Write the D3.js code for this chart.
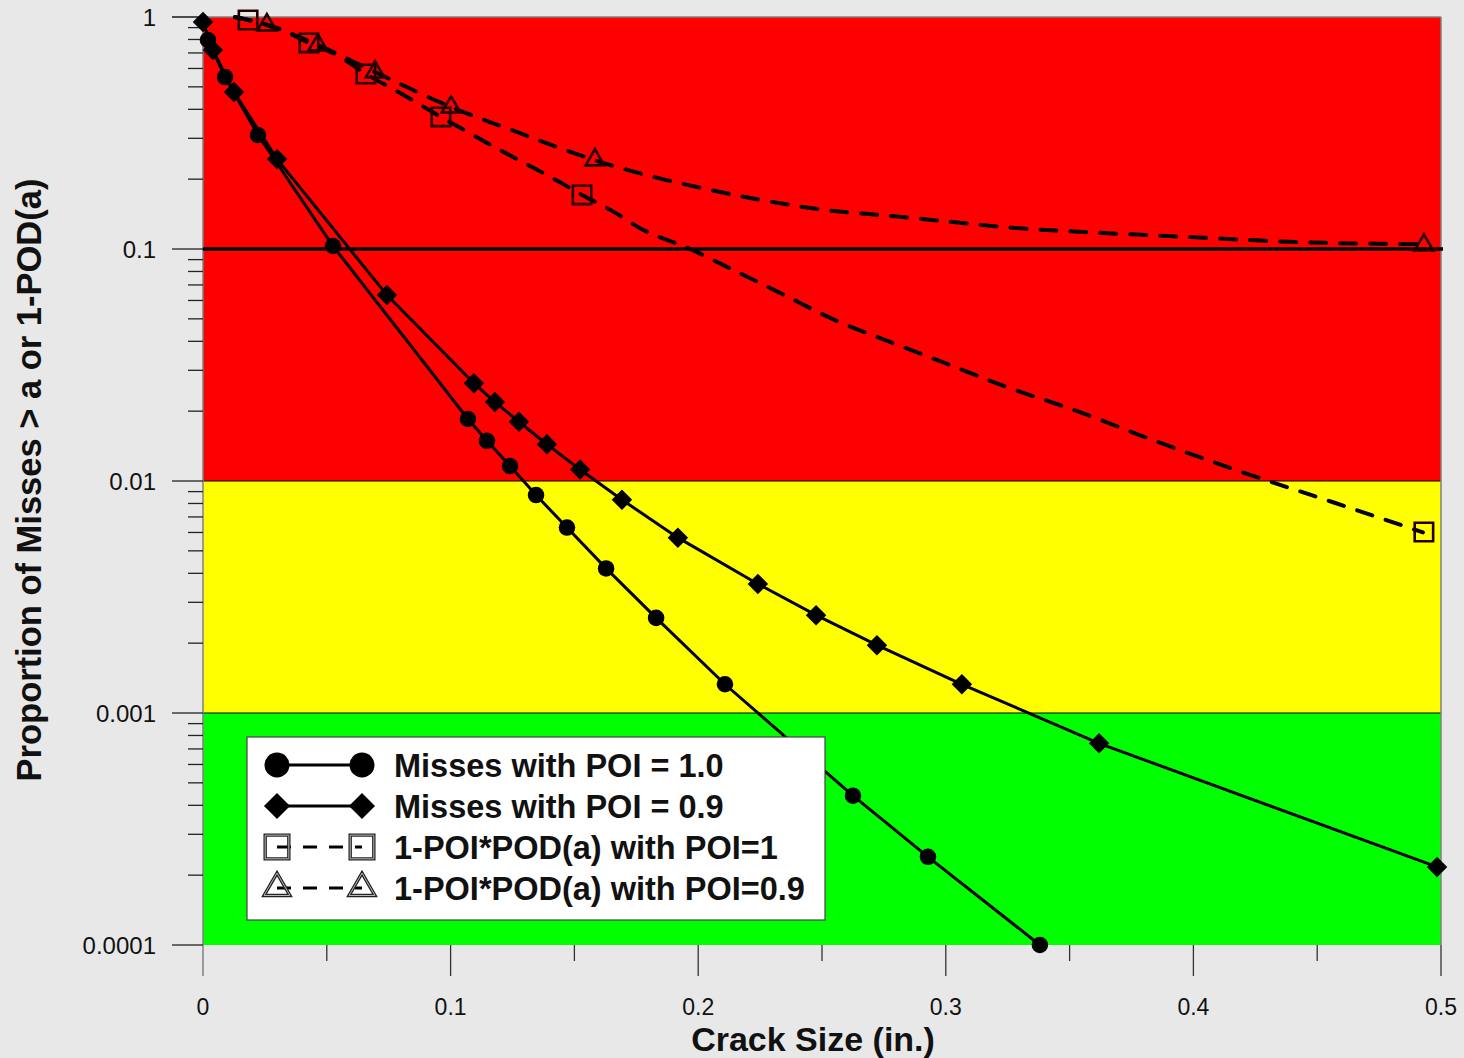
<!DOCTYPE html>
<html>
<head>
<meta charset="utf-8">
<script src="https://cdn.jsdelivr.net/npm/d3@7"></script>
<style>
  html, body { margin: 0; padding: 0; background: #e8e8e8; }
  svg { display: block; font-family: "Liberation Sans", Arial, sans-serif; }
</style>
</head>
<body>
<svg id="chart" width="1464" height="1058"></svg>
<script>
// Crack size (in.) and proportion values
const poi10X = [0.002, 0.0089, 0.0222, 0.0525, 0.107, 0.1147, 0.124, 0.1345, 0.147, 0.1628, 0.183, 0.2108, 0.2625, 0.2928, 0.338];
const poi10Y = [0.796, 0.551, 0.310, 0.103, 0.0185, 0.0149, 0.0116, 0.0087, 0.0063, 0.0042, 0.00257, 0.00133, 0.00044, 0.00024, 0.0001];

const poi09X = [0.0, 0.004, 0.0125, 0.0299, 0.0743, 0.1094, 0.1179, 0.1276, 0.1389, 0.1523, 0.1692, 0.1918, 0.2241, 0.2476, 0.2722, 0.3065, 0.3619, 0.4984];
const poi09Y = [0.952, 0.721, 0.475, 0.244, 0.0633, 0.0264, 0.0219, 0.0180, 0.0144, 0.0112, 0.0083, 0.0057, 0.0036, 0.00264, 0.00196, 0.00133, 0.00074, 0.000217];

// 1-POI*POD(a) curves (POI = 1 and POI = 0.9)
const podCurve1X = [0.0129, 0.0182, 0.0311, 0.0428, 0.0541, 0.0658, 0.0796, 0.0961, 0.12, 0.1442, 0.1531, 0.1652, 0.1765, 0.1967, 0.21, 0.233, 0.256, 0.2787, 0.3017, 0.3247, 0.3514, 0.3837, 0.4188, 0.4564, 0.4927];
const podCurve1Y = [1.0, 0.971, 0.888, 0.773, 0.686, 0.568, 0.470, 0.371, 0.267, 0.194, 0.171, 0.146, 0.123, 0.1, 0.0854, 0.0647, 0.049, 0.0393, 0.0316, 0.0254, 0.0203, 0.015, 0.011, 0.0081, 0.006];
const podMarks1X = [0.0182, 0.0428, 0.0658, 0.0961, 0.1531, 0.4931];
const podMarks1Y = [0.971, 0.773, 0.568, 0.371, 0.171, 0.00603];

const podCurve09X = [0.0129, 0.0258, 0.0464, 0.0695, 0.1002, 0.128, 0.1442, 0.1579, 0.1793, 0.2036, 0.2278, 0.252, 0.2775, 0.3017, 0.3247, 0.3651, 0.4027, 0.443, 0.4927];
const podCurve09Y = [1.0, 0.924, 0.757, 0.579, 0.409, 0.316, 0.272, 0.242, 0.208, 0.181, 0.161, 0.147, 0.139, 0.131, 0.124, 0.117, 0.112, 0.107, 0.105];
const podMarks09X = [0.0258, 0.0464, 0.0695, 0.1002, 0.1583, 0.4931];
const podMarks09Y = [0.924, 0.757, 0.579, 0.409, 0.242, 0.104];

const threshold = 0.1;

// Risk bands: upper bound, lower bound, colour
const bandTops = [1, 0.01, 0.001];
const bandBottoms = [0.01, 0.001, 0.0001];
const bandColors = ["#ff0000", "#ffff00", "#00ff00"];

const xTickValues = [0, 0.1, 0.2, 0.3, 0.4, 0.5];
const xTickLabels = ["0", "0.1", "0.2", "0.3", "0.4", "0.5"];
const xMinorTicks = [0.05, 0.15, 0.25, 0.35, 0.45];
const yTickValues = [1, 0.1, 0.01, 0.001, 0.0001];
const yTickLabels = ["1", "0.1", "0.01", "0.001", "0.0001"];

const legendLabels = ["Misses with POI = 1.0", "Misses with POI = 0.9", "1-POI*POD(a) with POI=1", "1-POI*POD(a) with POI=0.9"];

const zip = (xs, ys) => xs.map((x, i) => [x, ys[i]]);

const svg = d3.select("#chart");
const x = d3.scaleLinear().domain([0, 0.5]).range([203, 1441]);
const y = d3.scaleLog().domain([0.0001, 1]).range([945, 17]);

// bands
svg.append("g").selectAll("rect").data(bandTops).join("rect")
  .attr("x", x(0)).attr("width", x(0.5) - x(0))
  .attr("y", d => y(d))
  .attr("height", (d, i) => y(bandBottoms[i]) - y(d))
  .attr("fill", (d, i) => bandColors[i]);

// band boundaries
svg.append("g").selectAll("line").data([0.01, 0.001]).join("line")
  .attr("x1", x(0)).attr("x2", x(0.5))
  .attr("y1", d => y(d)).attr("y2", d => y(d))
  .attr("stroke", "#000").attr("stroke-width", 1);

// frame: left, top, right
const frame = svg.append("g").attr("stroke", "#808080").attr("stroke-width", 1.5).attr("fill", "none");
frame.append("line").attr("x1", x(0)).attr("x2", x(0)).attr("y1", y(1)).attr("y2", y(0.0001) + 31);
frame.append("line").attr("x1", x(0) - 31).attr("x2", x(0.5)).attr("y1", y(1)).attr("y2", y(1));
frame.append("line").attr("x1", x(0.5)).attr("x2", x(0.5)).attr("y1", y(1)).attr("y2", y(0.0001));

// y axis ticks
const yMinor = [];
for (let e = -4; e < 0; e++) for (let m = 2; m <= 9; m++) yMinor.push(m * Math.pow(10, e));
const yAxis = svg.append("g").attr("stroke", "#222").attr("stroke-width", 1.3);
yAxis.selectAll(".maj").data(yTickValues).join("line").attr("class", "maj")
  .attr("x1", x(0) - 31).attr("x2", x(0)).attr("y1", d => y(d)).attr("y2", d => y(d));
yAxis.selectAll(".min").data(yMinor).join("line").attr("class", "min")
  .attr("x1", x(0) - 15).attr("x2", x(0)).attr("y1", d => y(d)).attr("y2", d => y(d));
svg.append("g").selectAll("text").data(yTickValues).join("text")
  .attr("x", 156).attr("y", d => y(d)).attr("dy", "0.36em")
  .attr("text-anchor", "end").attr("font-size", 24).attr("fill", "#111")
  .text((d, i) => yTickLabels[i]);

// x axis ticks
const xAxis = svg.append("g").attr("stroke", "#333").attr("stroke-width", 1.3);
xAxis.selectAll(".maj").data(xTickValues.slice(1)).join("line").attr("class", "maj")
  .attr("x1", d => x(d)).attr("x2", d => x(d)).attr("y1", y(0.0001)).attr("y2", y(0.0001) + 31);
xAxis.selectAll(".min").data(xMinorTicks).join("line").attr("class", "min")
  .attr("x1", d => x(d)).attr("x2", d => x(d)).attr("y1", y(0.0001)).attr("y2", y(0.0001) + 16);
svg.append("g").selectAll("text").data(xTickValues).join("text")
  .attr("x", d => x(d)).attr("y", 1015)
  .attr("text-anchor", "middle").attr("font-size", 23).attr("fill", "#111")
  .text((d, i) => xTickLabels[i]);

// axis titles
svg.append("text").attr("x", 813).attr("y", 1051).attr("text-anchor", "middle")
  .attr("font-size", 34).attr("font-weight", "bold").attr("fill", "#111")
  .text("Crack Size (in.)");
svg.append("text").attr("transform", "translate(41,480) rotate(-90)").attr("text-anchor", "middle")
  .attr("font-size", 34.5).attr("font-weight", "bold").attr("fill", "#111")
  .text("Proportion of Misses > a or 1-POD(a)");

// threshold line
svg.append("line").attr("x1", x(0)).attr("x2", x(0.5) + 2)
  .attr("y1", y(threshold)).attr("y2", y(threshold))
  .attr("stroke", "#000").attr("stroke-width", 3.5);

const lineGen = d3.line().x(d => x(d[0])).y(d => y(d[1]));
const curveGen = d3.line().x(d => x(d[0])).y(d => y(d[1])).curve(d3.curveMonotoneX);

// dashed POD curves
[zip(podCurve1X, podCurve1Y), zip(podCurve09X, podCurve09Y)].forEach(pts => {
  svg.append("path").datum(pts).attr("d", curveGen)
    .attr("fill", "none").attr("stroke", "#000").attr("stroke-width", 4)
    .attr("stroke-dasharray", "16,14").attr("stroke-linecap", "round");
});

// solid miss curves
[zip(poi10X, poi10Y), zip(poi09X, poi09Y)].forEach(pts => {
  svg.append("path").datum(pts).attr("d", lineGen)
    .attr("fill", "none").attr("stroke", "#000").attr("stroke-width", 3);
});

// markers
const sym = {
  circle: s => d3.symbol(d3.symbolCircle, s)(),
  diamond: s => d3.symbol(d3.symbolSquare, s)(),
  square: s => d3.symbol(d3.symbolSquare, s)(),
  triangle: s => d3.symbol(d3.symbolTriangle, s)()
};
function drawMarks(pts, kind, size, filled, rot) {
  svg.append("g").selectAll("path").data(pts).join("path")
    .attr("transform", d => `translate(${x(d[0])},${y(d[1])}) rotate(${rot})`)
    .attr("d", sym[kind](size))
    .attr("fill", filled ? "#000" : "none")
    .attr("stroke", filled ? "none" : "#220000")
    .attr("stroke-width", 2.6);
}
drawMarks(zip(poi10X, poi10Y), "circle", 215, true, 0);
drawMarks(zip(poi09X, poi09Y), "diamond", 210, true, 45);
drawMarks(zip(podMarks1X, podMarks1Y), "square", 340, false, 0);
drawMarks(zip(podMarks09X, podMarks09Y), "triangle", 150, false, 0);

// legend
const lg = svg.append("g");
lg.append("rect").attr("x", 247).attr("y", 737).attr("width", 578).attr("height", 183)
  .attr("fill", "#fff").attr("stroke", "#444").attr("stroke-width", 1.2);
const legendKinds = ["circle", "diamond", "square", "triangle"];
const legendSizes = [490, 340, 560, 290];
const legendRot = [0, 45, 0, 0];
const legendDash = [null, null, "14,12", "14,12"];
const legendRows = [765, 806, 847, 888];
legendLabels.forEach((label, i) => {
  const yy = legendRows[i];
  lg.append("line").attr("x1", 277).attr("x2", 362).attr("y1", yy).attr("y2", yy)
    .attr("stroke", "#000").attr("stroke-width", 3.2)
    .attr("stroke-dasharray", legendDash[i]);
  [277, 362].forEach(cx => {
    const p = lg.append("path").attr("transform", `translate(${cx},${yy}) rotate(${legendRot[i]})`)
      .attr("d", sym[legendKinds[i]](legendSizes[i]));
    if (i < 2) {
      p.attr("fill", "#000");
    } else {
      p.attr("fill", "none").attr("stroke", "#222").attr("stroke-width", 3.4);
      lg.append("path").attr("transform", `translate(${cx},${yy})`)
        .attr("d", sym[legendKinds[i]](legendSizes[i]))
        .attr("fill", "none").attr("stroke", "#bbb").attr("stroke-width", 1);
    }
  });
  lg.append("text").attr("x", 394).attr("y", yy).attr("dy", "0.36em")
    .attr("font-size", 32.5).attr("font-weight", "bold").attr("fill", "#111")
    .text(label);
});
</script>
</body>
</html>
